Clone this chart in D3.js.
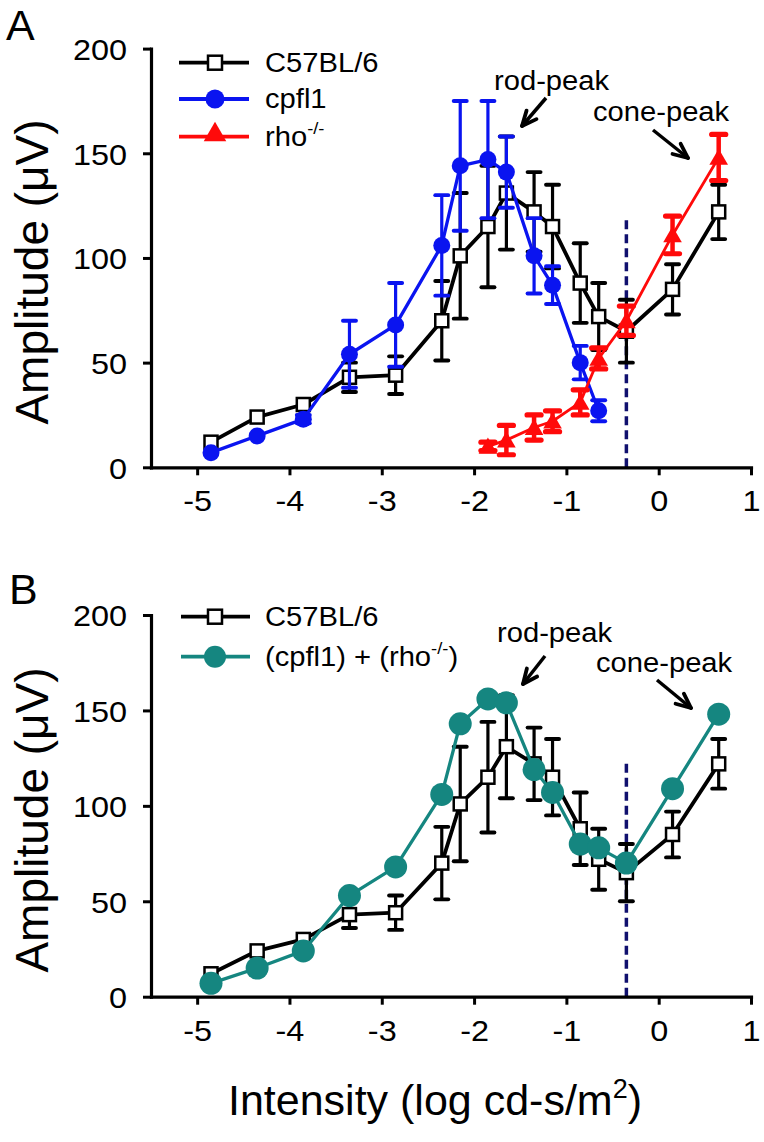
<!DOCTYPE html>
<html><head><meta charset="utf-8">
<script src="https://cdnjs.cloudflare.com/ajax/libs/d3/7.8.5/d3.min.js"></script>
<style>
body{margin:0;background:#fff;}
svg{display:block;font-family:"Liberation Sans",Arial,sans-serif;}
</style></head>
<body>
<svg id="chart" width="764" height="1142"></svg>
<script>
// ---------- data ----------
const xTicks = [-5, -4, -3, -2, -1, 0, 1];
const yTicks = [0, 50, 100, 150, 200];

const xC57 = [-4.85, -4.35, -3.85, -3.35, -2.85, -2.35, -2.15, -1.85, -1.65, -1.35, -1.15, -0.85, -0.65, -0.35, 0.15, 0.65];
const yC57 = [12, 24, 30, 43, 44, 70, 101, 115, 131, 122, 115, 88, 72, 65, 85, 122];
const eC57 = [0, 0, 0, 7, 9, 19, 30, 29, 27, 19, 20, 19, 16, 15, 12, 13];

const xCpfl1 = [-4.85, -4.35, -3.85, -3.35, -2.85, -2.35, -2.15, -1.85, -1.65, -1.35, -1.15, -0.85, -0.65];
const yCpfl1 = [7, 15, 23, 54, 68, 106, 144, 147, 141, 101, 87, 50, 27];
const eCpfl1 = [0, 0, 2, 16, 20, 24, 31, 28, 17, 18, 9, 8, 5];

const xRho = [-1.85, -1.65, -1.35, -1.15, -0.85, -0.65, -0.35, 0.15, 0.65];
const yRho = [10, 13, 19, 22, 31, 52, 70, 111, 148];
const eRho = [2, 7, 6, 5, 6, 5, 7, 9, 11];

const xComb = [-4.85, -4.35, -3.85, -3.35, -2.85, -2.35, -2.15, -1.85, -1.65, -1.35, -1.15, -0.85, -0.65, -0.35, 0.15, 0.65];
const yComb = [7, 15, 24, 53, 68, 106, 143, 156, 154, 119, 107, 80, 78, 70, 109, 148];

const dashX = -0.35;
const dashTop = [118, 122];

// ---------- styles ----------
const BLACK = "#000", BLUE = "#0a14f0", RED = "#ff0a0a", TEAL = "#158680", NAVY = "#10106e";
const SX = 1.08; // horizontal stretch of small text

const svg = d3.select("#chart");
const x = d3.scaleLinear().domain([-5.5, 1]).range([151, 751]);

function stext(g, px, py, str, size, anchor) {
  return g.append("text")
    .attr("transform", `translate(${px},${py}) scale(${SX},1)`)
    .attr("text-anchor", anchor)
    .style("font-size", size + "px")
    .text(str);
}

function arrow(g, x1, y1, x2, y2) {
  g.append("line").attr("x1", x1).attr("y1", y1).attr("x2", x2).attr("y2", y2)
    .attr("stroke", BLACK).attr("stroke-width", 3.5);
  const a = Math.atan2(y2 - y1, x2 - x1), L = 16, w = 0.42;
  [a + Math.PI - w, a + Math.PI + w].forEach(b => {
    g.append("line").attr("x1", x2).attr("y1", y2)
      .attr("x2", x2 + L * Math.cos(b)).attr("y2", y2 + L * Math.sin(b))
      .attr("stroke", BLACK).attr("stroke-width", 3.8).attr("stroke-linecap", "round");
  });
}

function errbars(g, y, xs, ys, es, color, sw, capW) {
  xs.forEach((xv, i) => {
    if (!es[i]) return;
    const cx = x(xv), y1 = y(ys[i] - es[i]), y2 = y(ys[i] + es[i]);
    g.append("line").attr("x1", cx).attr("x2", cx).attr("y1", y1).attr("y2", y2)
      .attr("stroke", color).attr("stroke-width", sw);
    [y1, y2].forEach(yy => g.append("line").attr("x1", cx - capW / 2).attr("x2", cx + capW / 2)
      .attr("y1", yy).attr("y2", yy).attr("stroke", color).attr("stroke-width", sw + 0.7)
      .attr("stroke-linecap", "round"));
  });
}

function series(g, y, xs, ys, color, sw) {
  const pts = xs.map((v, i) => [x(v), y(ys[i])]);
  g.append("path").attr("d", d3.line()(pts)).attr("fill", "none")
    .attr("stroke", color).attr("stroke-width", sw).attr("stroke-linejoin", "round");
  return pts;
}

function square(g, cx, cy, s) {
  g.append("rect").attr("x", cx - s / 2).attr("y", cy - s / 2).attr("width", s).attr("height", s)
    .attr("fill", "#fff").attr("stroke", BLACK).attr("stroke-width", 2.5);
}
function circle(g, cx, cy, r, color) {
  g.append("circle").attr("cx", cx).attr("cy", cy).attr("r", r).attr("fill", color);
}
function tri(g, cx, cy, size) {
  g.append("path").attr("transform", `translate(${cx},${cy + 2})`)
    .attr("d", d3.symbol(d3.symbolTriangle, size)()).attr("fill", RED);
}

function axes(g, y, bottom) {
  const ax = g.append("g").attr("transform", `translate(0,${bottom})`)
    .call(d3.axisBottom(x).tickValues(xTicks).tickSize(8).tickSizeOuter(0)
      .tickFormat(d => String(d)));
  const ay = g.append("g").attr("transform", "translate(151,0)")
    .call(d3.axisLeft(y).tickValues(yTicks).tickSize(8).tickSizeOuter(0)
      .tickFormat(d => String(d)));
  [ax, ay].forEach(a => {
    a.select(".domain").attr("stroke-width", 3.2).attr("stroke-linecap", "square");
    a.selectAll(".tick line").attr("stroke-width", 3);
    a.selectAll("text").style("font-size", "30px").attr("fill", BLACK)
      .style("font-family", '"Liberation Sans",Arial,sans-serif');
  });
  ax.selectAll("text").attr("y", 44).attr("dy", 0).attr("transform", `scale(${SX},1)`);
  ay.selectAll("text").attr("x", -24 / SX).attr("dy", "0.36em").attr("transform", `scale(${SX},1)`);
}

function yTitle(cy) {
  const t = svg.append("text").attr("transform", `translate(48,${cy}) rotate(-90)`)
    .attr("text-anchor", "middle").style("font-size", "46px");
  t.text("Amplitude (\u03bcV)");
}

// ---------- Panel A ----------
const gA = svg.append("g");
const yA = d3.scaleLinear().domain([0, 200]).range([467.3, 48.6]);
gA.append("text").attr("x", 6).attr("y", 40).style("font-size", "43px").text("A");
yTitle(272);

gA.append("line").attr("x1", x(dashX)).attr("x2", x(dashX)).attr("y1", yA(dashTop[0])).attr("y2", yA(0))
  .attr("stroke", NAVY).attr("stroke-width", 3.5).attr("stroke-dasharray", "9,5");

errbars(gA, yA, xC57, yC57, eC57, BLACK, 3.2, 13);
series(gA, yA, xC57, yC57, BLACK, 3.8).forEach(p => square(gA, p[0], p[1], 13));
errbars(gA, yA, xCpfl1, yCpfl1, eCpfl1, BLUE, 3.2, 13);
series(gA, yA, xCpfl1, yCpfl1, BLUE, 3.3).forEach(p => circle(gA, p[0], p[1], 8.5, BLUE));
errbars(gA, yA, xRho, yRho, eRho, RED, 4.5, 14);
series(gA, yA, xRho, yRho, RED, 2.8).forEach(p => tri(gA, p[0], p[1], 150));

axes(gA, yA, 467.3);

// legend A
[[62.7, BLACK, "sq"], [99, BLUE, "ci"], [136.7, RED, "tr"]].forEach(([ly, c, m]) => {
  gA.append("line").attr("x1", 179).attr("x2", 249).attr("y1", ly).attr("y2", ly)
    .attr("stroke", c).attr("stroke-width", 3.8);
  if (m === "sq") square(gA, 215, ly, 14);
  if (m === "ci") circle(gA, 215, ly, 9.5, BLUE);
  if (m === "tr") tri(gA, 215, ly - 4, 220);
});
stext(gA, 265, 72, "C57BL/6", 27, "start");
stext(gA, 265, 108, "cpfl1", 27, "start");
const rl = stext(gA, 265, 146, "", 27, "start");
rl.append("tspan").text("rho");
rl.append("tspan").attr("dy", -12).style("font-size", "17px").text("-/-");

stext(gA, 494, 90, "rod-peak", 27, "start");
arrow(gA, 546, 98, 522, 126);
stext(gA, 593, 121, "cone-peak", 27, "start");
arrow(gA, 653, 130, 688, 158);

// ---------- Panel B ----------
const gB = svg.append("g");
const yB = d3.scaleLinear().domain([0, 200]).range([996.7, 615]);
gB.append("text").attr("x", 9).attr("y", 604).style("font-size", "43px").text("B");
yTitle(820);

gB.append("line").attr("x1", x(dashX)).attr("x2", x(dashX)).attr("y1", yB(dashTop[1])).attr("y2", yB(0))
  .attr("stroke", NAVY).attr("stroke-width", 3.5).attr("stroke-dasharray", "9,5");

errbars(gB, yB, xC57, yC57, eC57, BLACK, 3.2, 13);
series(gB, yB, xC57, yC57, BLACK, 3.8).forEach(p => square(gB, p[0], p[1], 13));
series(gB, yB, xComb, yComb, TEAL, 3.3).forEach(p => circle(gB, p[0], p[1], 11.5, TEAL));

axes(gB, yB, 996.7);

// legend B
gB.append("line").attr("x1", 181).attr("x2", 250).attr("y1", 616.7).attr("y2", 616.7)
  .attr("stroke", BLACK).attr("stroke-width", 3.8);
square(gB, 215, 616.7, 14);
gB.append("line").attr("x1", 181).attr("x2", 250).attr("y1", 656.7).attr("y2", 656.7)
  .attr("stroke", TEAL).attr("stroke-width", 3.8);
circle(gB, 215, 656.7, 11, TEAL);
stext(gB, 265, 626, "C57BL/6", 27, "start");
const cl = stext(gB, 265, 666, "", 27, "start");
cl.append("tspan").text("(cpfl1) + (rho");
cl.append("tspan").attr("dy", -12).style("font-size", "17px").text("-/-");
cl.append("tspan").attr("dy", 12).text(")");

stext(gB, 497, 642, "rod-peak", 27, "start");
arrow(gB, 545, 656, 523, 684);
stext(gB, 596, 672, "cone-peak", 27, "start");
arrow(gB, 657, 680, 691, 708);

// x title
const xt = svg.append("text").attr("x", 435).attr("y", 1115).attr("text-anchor", "middle")
  .style("font-size", "43px");
xt.append("tspan").text("Intensity (log cd-s/m");
xt.append("tspan").attr("dy", -17).style("font-size", "27px").text("2");
xt.append("tspan").attr("dy", 17).text(")");
</script>
</body></html>
